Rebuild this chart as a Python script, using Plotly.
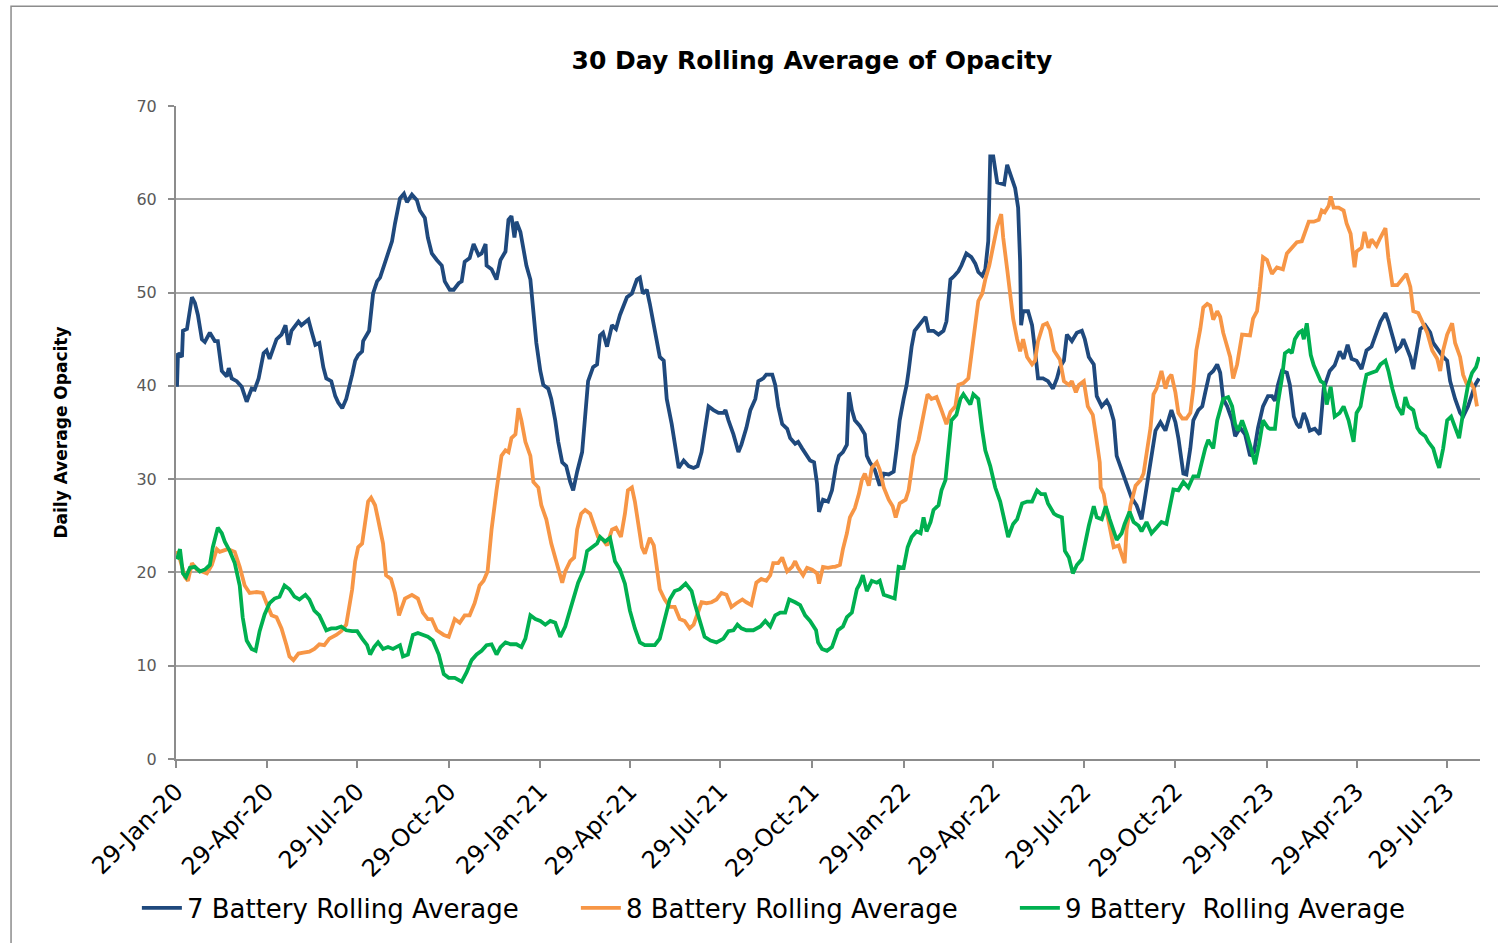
import pandas as pd
import plotly.graph_objects as go

START = "2020-01-29"

# ---- 7 Battery (day offset from 29-Jan-20, value) ----
b7_days = [1, 2, 6, 7, 11, 16, 19, 22, 26, 29, 34, 39, 42, 46, 51, 53, 56, 61, 66, 71, 76, 79, 83, 88, 91, 94,
           101, 106, 110, 113, 116, 123, 126, 130, 133, 136, 140, 144, 148, 151, 156, 160, 163, 167, 171, 177,
           180, 183, 187, 188, 194, 198, 202, 205, 208, 213, 217, 220, 225, 229, 232, 237, 242, 245, 250, 253,
           257, 262, 267, 270, 275, 279, 284, 287, 290, 295, 299, 304, 307, 311, 312, 317, 322, 326, 331, 334,
           337, 340, 342, 346, 349, 352, 356, 359, 362, 366, 369, 374, 377, 381, 384, 388, 392, 396, 399, 403,
           408, 411, 414, 419, 423, 426, 429, 433, 438, 442, 446, 453, 458, 463, 466, 469, 473, 476, 481, 486,
           490, 493, 498, 501, 505, 510, 515, 520, 524, 528, 531, 535, 540, 545, 550, 552, 555, 560, 565, 568,
           573, 577, 582, 585, 590, 593, 599, 602, 605, 609, 614, 617, 622, 625, 629, 634, 637, 641, 644, 646,
           650, 655, 659, 663, 666, 670, 674, 676, 679, 682, 687, 692, 694, 697, 702, 707, 711, 716, 721, 724,
           727, 731, 734, 736, 739, 742, 748, 753, 756, 761, 766, 771, 774, 778, 782, 786, 789, 794, 799, 803,
           806, 810, 813, 816, 818, 821, 825, 830, 832, 835, 840, 843, 846, 848, 849, 851, 856, 860, 863, 866,
           871, 876, 881, 885, 888, 892, 895, 900, 905, 910, 913, 917, 922, 925, 930, 935, 938, 942, 945, 948,
           952, 957, 960, 965, 970, 974, 977, 980, 984, 989, 994, 998, 1000, 1004, 1007, 1012, 1015, 1019, 1022,
           1027, 1031, 1034, 1038, 1042, 1046, 1049, 1052, 1056, 1061, 1064, 1069, 1074, 1079, 1083, 1087, 1092,
           1097, 1101, 1104, 1107, 1111, 1116, 1119, 1123, 1126, 1129, 1133, 1136, 1139, 1144, 1149, 1153, 1156,
           1159, 1164, 1169, 1173, 1177, 1181, 1186, 1191, 1196, 1201, 1205, 1210, 1215, 1218, 1223, 1226, 1230,
           1233, 1236, 1240, 1243, 1247, 1250, 1255, 1260, 1263, 1268, 1273, 1277, 1280, 1285, 1290, 1293, 1298,
           1302, 1305, 1309]
b7_vals = [39.9, 43.5, 43.1, 45.9, 46.1, 49.5, 48.9, 47.6, 45.0, 44.7, 45.7, 44.8, 44.8, 41.6, 41.0, 41.9, 40.8,
           40.5, 39.9, 38.3, 39.7, 39.6, 40.8, 43.5, 43.8, 42.9, 45.0, 45.5, 46.5, 44.4, 45.9, 46.9, 46.5, 46.9,
           47.1, 45.9, 44.4, 44.6, 42.0, 40.8, 40.5, 38.9, 38.2, 37.6, 38.6, 41.2, 42.7, 43.3, 43.7, 44.8, 45.9,
           49.9, 51.2, 51.6, 52.5, 54.0, 55.5, 57.4, 60.1, 60.6, 59.7, 60.5, 59.9, 58.8, 58.0, 55.9, 54.2, 53.5,
           52.9, 51.2, 50.3, 50.3, 51.0, 51.2, 53.3, 53.7, 55.2, 54.0, 54.2, 55.2, 52.9, 52.5, 51.4, 53.5, 54.4,
           57.8, 58.2, 55.9, 57.6, 56.5, 54.8, 52.9, 51.4, 48.4, 44.6, 41.6, 40.1, 39.7, 38.6, 36.3, 34.0, 31.8,
           31.4, 29.7, 28.8, 30.8, 32.9, 36.7, 40.5, 42.0, 42.3, 45.4, 45.7, 44.2, 46.5, 46.1, 47.6, 49.5, 49.9,
           51.4, 51.6, 49.9, 50.3, 48.8, 46.1, 43.1, 42.7, 38.6, 35.9, 33.7, 31.2, 32.0, 31.4, 31.2, 31.4, 32.9,
           34.8, 37.8, 37.4, 37.1, 37.1, 37.4, 36.3, 34.8, 32.9, 33.7, 35.5, 37.4, 38.6, 40.5, 40.8, 41.2, 41.2,
           40.1, 37.8, 35.9, 35.4, 34.4, 33.8, 34.0, 33.3, 32.5, 32.0, 31.8, 29.5, 26.5, 27.8, 27.6, 28.8, 31.4,
           32.5, 32.9, 33.7, 39.3, 37.4, 36.3, 35.7, 34.8, 32.5, 31.8, 31.0, 29.3, 30.6, 30.5, 30.8, 33.3, 36.3,
           38.6, 40.1, 41.6, 44.2, 45.9, 46.7, 47.4, 45.9, 45.9, 45.5, 45.9, 46.9, 51.4, 51.8, 52.3, 52.9, 54.2,
           53.8, 53.1, 52.2, 51.8, 52.5, 55.5, 64.6, 64.6, 61.8, 61.6, 61.6, 63.7, 62.3, 61.2, 59.1, 53.3, 46.5,
           48.0, 48.0, 46.5, 43.8, 40.8, 40.8, 40.5, 39.7, 40.8, 42.0, 42.7, 45.5, 44.8, 45.7, 45.9, 45.0, 43.1,
           42.3, 38.9, 37.8, 38.4, 37.8, 36.3, 32.5, 31.6, 30.3, 29.1, 28.0, 27.2, 25.7, 28.4, 30.6, 32.9, 35.2,
           36.1, 35.2, 36.7, 37.4, 36.1, 34.4, 30.6, 30.5, 33.3, 36.3, 37.4, 37.8, 39.3, 41.2, 41.6, 42.3, 41.4,
           38.6, 37.8, 36.3, 34.6, 35.5, 34.8, 32.5, 32.9, 35.5, 37.8, 38.9, 38.9, 38.4, 40.1, 41.6, 41.4, 40.1,
           36.7, 35.9, 35.5, 37.1, 36.3, 35.2, 35.4, 34.8, 39.7, 40.8, 41.6, 42.2, 43.7, 42.9, 44.4, 42.9, 42.7,
           41.8, 43.8, 44.2, 45.5, 46.9, 47.8, 46.9, 45.0, 43.8, 44.2, 45.0, 44.2, 43.1, 41.8, 44.2, 46.1, 46.5,
           45.7, 44.6, 43.8, 43.1, 42.7, 40.5, 38.6, 37.1, 36.7, 37.8, 39.1, 40.1, 40.8]

# ---- 8 Battery ----
b8_days = [1, 4, 9, 12, 16, 21, 26, 31, 36, 41, 44, 47, 52, 59, 64, 69, 74, 81, 87, 91, 96, 101, 106, 111, 114,
           118, 123, 128, 134, 139, 144, 149, 154, 161, 166, 171, 177, 180, 183, 187, 190, 193, 196, 200, 203,
           208, 211, 216, 220, 224, 230, 237, 243, 248, 253, 257, 262, 269, 274, 280, 285, 290, 295, 300, 305,
           309, 313, 317, 322, 327, 331, 334, 337, 341, 344, 347, 351, 356, 359, 364, 367, 372, 377, 383, 388,
           391, 396, 400, 403, 407, 411, 416, 420, 424, 429, 433, 438, 442, 447, 451, 454, 458, 461, 464, 468,
           471, 476, 480, 483, 486, 491, 496, 501, 506, 511, 516, 520, 524, 528, 533, 538, 543, 548, 553, 558,
           563, 569, 573, 578, 583, 588, 593, 597, 600, 605, 609, 614, 619, 622, 625, 630, 634, 639, 644, 646,
           650, 655, 660, 662, 667, 670, 674, 677, 682, 686, 689, 692, 696, 699, 704, 707, 711, 716, 720, 723,
           727, 733, 736, 741, 746, 751, 755, 759, 764, 769, 774, 778, 783, 786, 791, 796, 799, 803, 806, 810,
           813, 817, 821, 825, 829, 831, 835, 838, 841, 845, 848, 851, 855, 860, 863, 866, 871, 875, 878, 882,
           888, 892, 897, 900, 904, 907, 912, 916, 921, 924, 928, 929, 932, 935, 938, 942, 947, 950, 953, 955,
           959, 964, 969, 972, 975, 979, 982, 985, 990, 994, 997, 1000, 1004, 1007, 1011, 1015, 1019, 1022,
           1025, 1029, 1032, 1036, 1039, 1042, 1046, 1049, 1052, 1056, 1059, 1062, 1066, 1071, 1075, 1079, 1082,
           1086, 1089, 1092, 1096, 1101, 1106, 1112, 1116, 1121, 1126, 1131, 1134, 1138, 1143, 1148, 1151, 1154,
           1158, 1160, 1163, 1168, 1173, 1176, 1180, 1184, 1186, 1191, 1194, 1198, 1201, 1206, 1210, 1215, 1218,
           1222, 1227, 1232, 1236, 1240, 1243, 1248, 1253, 1257, 1262, 1267, 1270, 1273, 1277, 1282, 1285, 1290,
           1293, 1297, 1300, 1304, 1307]
b8_vals = [22.3, 21.4, 19.5, 19.1, 21.0, 20.3, 20.1, 19.9, 20.8, 22.5, 22.2, 22.3, 22.5, 22.2, 20.6, 18.6, 17.8,
           17.9, 17.8, 16.7, 15.4, 15.2, 14.0, 12.2, 11.0, 10.6, 11.3, 11.4, 11.5, 11.8, 12.3, 12.2, 12.9, 13.3,
           13.7, 14.4, 18.2, 21.2, 22.7, 23.1, 25.7, 27.6, 28.0, 27.2, 25.7, 23.1, 19.7, 19.3, 17.8, 15.4, 17.2,
           17.6, 17.2, 15.7, 15.0, 15.0, 13.8, 13.3, 13.1, 15.0, 14.6, 15.4, 15.4, 16.7, 18.6, 19.1, 20.1, 24.6,
           28.8, 32.5, 33.1, 32.9, 34.4, 34.8, 37.6, 36.3, 34.0, 32.5, 29.7, 29.1, 27.2, 25.7, 23.1, 20.8, 18.9,
           20.1, 21.2, 21.6, 24.6, 26.3, 26.7, 26.3, 25.0, 23.8, 23.5, 22.9, 24.6, 24.8, 23.8, 26.3, 28.8, 29.1,
           27.6, 25.7, 22.7, 22.0, 23.7, 22.9, 20.5, 18.2, 17.1, 16.3, 16.3, 15.0, 14.8, 14.0, 14.4, 15.7, 16.8,
           16.7, 16.8, 17.1, 17.8, 17.6, 16.3, 16.7, 17.1, 16.8, 16.5, 18.9, 19.3, 19.1, 19.7, 21.0, 21.0, 21.6,
           20.1, 20.6, 21.2, 20.5, 19.7, 20.5, 20.3, 19.9, 18.8, 20.6, 20.5, 20.6, 20.6, 20.8, 22.5, 24.2, 25.9,
           26.9, 28.4, 29.9, 30.6, 29.3, 31.2, 31.8, 31.0, 29.1, 27.8, 27.1, 25.9, 27.4, 27.8, 28.8, 32.5, 34.2,
           37.1, 39.1, 38.6, 38.8, 37.4, 35.9, 37.2, 37.8, 40.1, 40.3, 40.8, 43.5, 47.2, 49.1, 49.9, 51.4, 52.9,
           54.8, 57.1, 58.4, 55.9, 52.5, 49.5, 47.2, 45.0, 43.7, 45.0, 43.1, 42.3, 42.7, 44.8, 46.5, 46.7, 46.0,
           43.8, 42.8, 40.5, 40.1, 40.5, 39.3, 40.1, 40.5, 37.8, 36.9, 34.8, 31.8, 29.1, 28.4, 26.5, 25.0, 22.7,
           22.9, 22.0, 21.0, 24.6, 27.2, 29.3, 29.9, 30.6, 32.9, 35.5, 39.1, 39.7, 41.6, 39.7, 40.8, 41.2, 39.3,
           37.1, 36.5, 36.5, 37.1, 39.7, 43.8, 46.1, 48.4, 48.8, 48.6, 47.1, 48.0, 47.4, 45.7, 44.2, 43.1, 40.8,
           42.3, 45.5, 45.5, 45.4, 47.2, 48.0, 50.6, 53.8, 53.5, 52.0, 52.7, 52.5, 54.2, 54.8, 55.4, 55.5, 56.3,
           57.6, 57.6, 57.8, 58.8, 58.6, 59.3, 60.3, 59.1, 59.1, 58.8, 57.4, 56.3, 52.7, 54.4, 54.8, 56.5, 54.8,
           55.7, 55.0, 55.9, 56.9, 53.7, 50.8, 50.8, 51.4, 52.0, 50.6, 48.0, 47.8, 46.7, 45.7, 43.8, 42.9, 41.6,
           43.8, 45.5, 46.7, 44.6, 43.1, 41.2, 40.1, 40.5, 39.7, 37.8]

# ---- 9 Battery ----
b9_days = [1, 4, 7, 10, 14, 19, 24, 29, 34, 37, 42, 46, 49, 54, 59, 64, 67, 71, 76, 80, 84, 89, 94, 99, 104, 109,
           114, 119, 124, 130, 134, 139, 144, 148, 151, 156, 161, 166, 171, 177, 182, 187, 192, 195, 199, 203,
           208, 213, 218, 225, 228, 233, 238, 243, 248, 253, 258, 264, 269, 274, 280, 287, 292, 297, 302, 307,
           312, 317, 322, 326, 331, 336, 342, 347, 351, 356, 361, 366, 371, 376, 381, 386, 391, 396, 401, 404,
           409, 413, 418, 423, 426, 431, 436, 441, 446, 451, 456, 461, 466, 471, 476, 481, 486, 491, 496, 501,
           506, 512, 518, 521, 526, 531, 537, 543, 550, 555, 560, 564, 568, 573, 580, 587, 592, 597, 602, 607,
           612, 616, 622, 627, 632, 637, 643, 645, 649, 654, 659, 663, 665, 670, 674, 679, 684, 687, 690, 694,
           699, 704, 707, 711, 716, 722, 726, 731, 735, 739, 744, 748, 751, 754, 758, 761, 766, 769, 773, 776,
           779, 784, 788, 791, 794, 798, 801, 806, 810, 813, 818, 823, 828, 833, 836, 841, 845, 850, 855, 860,
           865, 869, 873, 876, 882, 885, 890, 893, 897, 901, 905, 910, 914, 917, 922, 925, 930, 934, 938, 942,
           945, 950, 953, 958, 962, 967, 970, 975, 980, 985, 990, 995, 999, 1002, 1007, 1012, 1017, 1022, 1027,
           1031, 1034, 1037, 1042, 1046, 1050, 1052, 1057, 1061, 1064, 1067, 1071, 1076, 1081, 1084, 1088, 1092,
           1097, 1099, 1104, 1107, 1111, 1114, 1118, 1121, 1124, 1128, 1131, 1133, 1136, 1140, 1143, 1146, 1150,
           1153, 1156, 1160, 1164, 1169, 1173, 1178, 1183, 1186, 1190, 1193, 1196, 1201, 1206, 1210, 1215, 1218,
           1222, 1227, 1232, 1235, 1238, 1243, 1247, 1250, 1255, 1258, 1263, 1267, 1269, 1273, 1277, 1281, 1285,
           1289, 1293, 1298, 1302, 1306, 1309]
b9_vals = [21.4, 22.5, 19.9, 19.5, 20.5, 20.6, 20.1, 20.3, 20.8, 22.7, 24.8, 24.2, 23.3, 22.3, 21.0, 18.6, 15.2,
           12.7, 11.8, 11.6, 13.7, 15.5, 16.7, 17.2, 17.4, 18.6, 18.2, 17.4, 17.1, 17.6, 17.1, 15.9, 15.4, 14.4,
           13.8, 14.0, 14.0, 14.2, 13.8, 13.7, 13.7, 12.9, 12.2, 11.2, 12.0, 12.5, 11.8, 12.0, 11.8, 12.2, 11.0,
           11.2, 13.3, 13.5, 13.3, 13.1, 12.7, 11.2, 9.1, 8.7, 8.7, 8.3, 9.3, 10.6, 11.2, 11.6, 12.2, 12.3, 11.2,
           12.0, 12.5, 12.3, 12.3, 12.0, 12.9, 15.4, 15.0, 14.8, 14.4, 14.8, 14.6, 13.1, 14.2, 15.9, 17.8, 18.9,
           20.1, 22.3, 22.7, 23.1, 23.8, 23.3, 23.7, 21.2, 20.3, 18.8, 15.9, 14.0, 12.5, 12.2, 12.2, 12.2, 12.9,
           15.2, 17.1, 18.0, 18.2, 18.8, 18.0, 16.7, 14.8, 13.1, 12.7, 12.5, 12.9, 13.7, 13.8, 14.4, 14.0, 13.8,
           13.8, 14.2, 14.8, 14.2, 15.4, 15.7, 15.7, 17.1, 16.8, 16.5, 15.4, 14.8, 13.8, 12.5, 11.8, 11.6, 12.0,
           13.3, 13.8, 14.2, 15.2, 15.7, 18.2, 18.8, 19.7, 18.0, 19.1, 18.9, 19.1, 17.6, 17.4, 17.2, 20.6, 20.5,
           22.7, 23.8, 24.4, 24.2, 25.9, 24.4, 25.4, 26.7, 27.2, 28.8, 29.9, 33.3, 36.3, 36.9, 38.6, 39.1, 38.6,
           38.0, 39.1, 38.6, 35.2, 33.1, 31.4, 29.1, 27.6, 25.4, 23.8, 25.2, 25.7, 27.4, 27.6, 27.6, 28.8, 28.4,
           28.4, 27.4, 26.3, 26.1, 25.9, 22.3, 21.6, 19.9, 20.8, 21.4, 23.5, 25.0, 27.1, 25.9, 25.7, 27.1, 25.7,
           24.6, 23.5, 24.2, 25.2, 26.5, 25.4, 25.0, 24.4, 25.4, 24.2, 24.8, 25.4, 25.2, 27.2, 28.9, 28.8, 29.7,
           29.1, 30.3, 30.3, 32.2, 33.3, 34.2, 33.3, 36.3, 37.8, 38.6, 38.8, 37.8, 35.9, 35.2, 36.3, 34.8, 32.9,
           31.6, 33.7, 36.3, 35.5, 35.4, 35.4, 38.2, 40.8, 43.5, 43.8, 43.5, 45.0, 45.7, 45.9, 45.0, 46.7, 43.3,
           42.2, 41.4, 40.5, 40.3, 38.0, 39.9, 36.7, 37.1, 37.8, 36.3, 34.0, 37.1, 37.8, 39.7, 41.2, 41.4, 41.6,
           42.3, 42.7, 41.6, 39.7, 37.8, 36.9, 38.8, 37.8, 37.4, 35.5, 35.0, 34.6, 34.0, 33.3, 31.8, 31.2, 33.3,
           36.3, 36.7, 35.5, 34.4, 37.1, 40.1, 41.4, 42.0, 43.1]

tick_dates = ["2020-01-29", "2020-04-29", "2020-07-29", "2020-10-29", "2021-01-29", "2021-04-29",
              "2021-07-29", "2021-10-29", "2022-01-29", "2022-04-29", "2022-07-29", "2022-10-29",
              "2023-01-29", "2023-04-29", "2023-07-29"]
tick_text = ["29-Jan-20", "29-Apr-20", "29-Jul-20", "29-Oct-20", "29-Jan-21", "29-Apr-21", "29-Jul-21",
             "29-Oct-21", "29-Jan-22", "29-Apr-22", "29-Jul-22", "29-Oct-22", "29-Jan-23", "29-Apr-23",
             "29-Jul-23"]

series = [
    ("7 Battery Rolling Average", b7_days, b7_vals, "#1F497D"),
    ("8 Battery Rolling Average", b8_days, b8_vals, "#F79646"),
    ("9 Battery\u00a0 Rolling Average", b9_days, b9_vals, "#00B050"),
]

start = pd.Timestamp(START)
fig = go.Figure()
for name, days, vals, color in series:
    dates = start + pd.to_timedelta(days, unit="D")
    fig.add_trace(go.Scatter(x=dates, y=vals, mode="lines", name=name,
                             line=dict(color=color, width=3.8)))

FONT = "DejaVu Sans"
fig.update_layout(
    width=1498, height=943,
    paper_bgcolor="white", plot_bgcolor="white",
    margin=dict(l=176, r=18, t=106, b=172),
    font=dict(family=FONT, color="#000000"),
    title=dict(text="<b>30 Day Rolling Average of Opacity</b>", x=0.4877, xref="paper", xanchor="center",
               y=1 - 60 / 943, yanchor="middle", font=dict(size=25, family=FONT, color="#000000")),
    showlegend=True,
    legend=dict(orientation="h", x=-0.03, xanchor="left", y=-0.228, yanchor="middle",
                font=dict(size=26, family=FONT, color="#000000"), itemwidth=40,
                entrywidth=384, entrywidthmode="pixels"),
    shapes=[dict(type="rect", xref="paper", yref="paper", x0=-0.1265, x1=1.2, y0=-0.5, y1=1.1526,
                 line=dict(color="#8c8c8c", width=1.5), fillcolor="rgba(0,0,0,0)", layer="below")],
)
fig.update_xaxes(
    type="date", range=["2020-01-29", "2023-08-31"], automargin=False,
    tickvals=tick_dates, ticktext=tick_text, tickangle=-45,
    tickfont=dict(size=24, family=FONT, color="#000000"),
    showline=True, linecolor="#8c8c8c", linewidth=2,
    ticks="outside", ticklen=7, tickcolor="#8c8c8c", tickwidth=2,
    showgrid=False, zeroline=False,
)
fig.update_yaxes(
    range=[0, 70], dtick=10, tick0=0, automargin=False,
    tickfont=dict(size=16, family=FONT, color="#595959"),
    ticklabelstandoff=8,
    showline=True, linecolor="#8c8c8c", linewidth=2,
    ticks="outside", ticklen=6, tickcolor="#8c8c8c", tickwidth=2,
    showgrid=True, gridcolor="#a6a6a6", gridwidth=2, zeroline=False,
    title=dict(text="<b>Daily Average Opacity</b>", font=dict(size=17, family=FONT, color="#000000"),
               standoff=64),
)
fig.write_html("out.html", config={"displayModeBar": False},
               post_script="document.body.style.margin='0px';")
